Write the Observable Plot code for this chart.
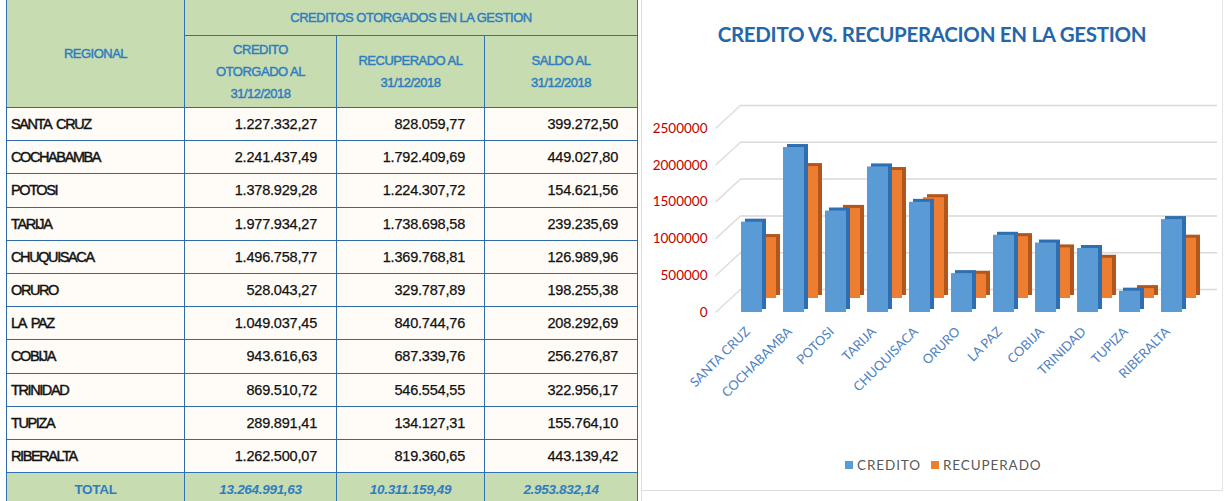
<!DOCTYPE html>
<html>
<head>
<meta charset="utf-8">
<script src="https://cdn.jsdelivr.net/npm/d3@7"></script>
<script src="https://cdn.jsdelivr.net/npm/@observablehq/plot@0.6"></script>
<style>
html, body { margin: 0; padding: 0; background: #fff; }
body { width: 1227px; height: 501px; position: relative; overflow: hidden; font-family: "Liberation Sans", Arial, sans-serif; }
.cell { position: absolute; box-sizing: border-box; display: flex; align-items: center; border: 1px solid #2f72b3; }
.hdr { background: #c8dcb1; color: #2f7dc0; justify-content: center; text-align: center; font-size: 13px; line-height: 22px; letter-spacing: -0.5px; -webkit-text-stroke: 0.45px #2f7dc0; }
.data { background: #fffcf7; color: #111; font-size: 14.5px; border-color: #2f6aa6; }
.name { justify-content: flex-start; padding-left: 4px; letter-spacing: -1.4px; word-spacing: 3px; -webkit-text-stroke: 0.45px #111; }
.num { justify-content: flex-end; padding-right: 19px; letter-spacing: -0.2px; -webkit-text-stroke: 0.25px #111; }
.tot { background: #c8dcb1; color: #2f7dc0; font-size: 13.5px; font-style: italic; font-weight: bold; justify-content: center; letter-spacing: -0.3px; }
#chartbox { position: absolute; left: 640px; top: 0; width: 587px; height: 501px; }
#chartbox svg { position: absolute; left: 0; top: 0; }
#title { position: absolute; left: 640px; top: 22px; width: 584px; text-align: center; font-family: Lato, sans-serif; font-weight: 700; font-size: 20.5px; color: #2566ab; letter-spacing: -0.3px; }
#legend { position: absolute; top: 457px; left: 845px; font-family: Lato, sans-serif; font-size: 13.5px; color: #595959; display: flex; align-items: center; letter-spacing: 0.9px; }
#legend .sw { display: inline-block; width: 8px; height: 8px; margin-right: 4px; }
#legend .item { display: flex; align-items: center; margin-right: 10px; }
#edgeL { position: absolute; left: 641px; top: 0; width: 1px; height: 501px; background: #cfe6f3; }
#edgeB { position: absolute; left: 642px; top: 490px; width: 580px; height: 1px; background: #dcdcdc; }
#edgeR { position: absolute; left: 1222px; top: 0; width: 1px; height: 491px; background: #e4e4e4; }
</style>
</head>
<body>
<div id="table"></div>
<div id="edgeL"></div>
<div id="edgeB"></div>
<div id="edgeR"></div>
<div id="chartbox"></div>
<div id="title"></div>
<div id="legend"></div>
<script>
// ---------- data ----------
const regions = ["SANTA CRUZ","COCHABAMBA","POTOSI","TARIJA","CHUQUISACA","ORURO","LA PAZ","COBIJA","TRINIDAD","TUPIZA","RIBERALTA"];
const credito = [1227332.27, 2241437.49, 1378929.28, 1977934.27, 1496758.77, 528043.27, 1049037.45, 943616.63, 869510.72, 289891.41, 1262500.07];
const recuperado = [828059.77, 1792409.69, 1224307.72, 1738698.58, 1369768.81, 329787.89, 840744.76, 687339.76, 546554.55, 134127.31, 819360.65];
const saldo = [399272.50, 449027.80, 154621.56, 239235.69, 126989.96, 198255.38, 208292.69, 256276.87, 322956.17, 155764.10, 443139.42];
const totals = [13264991.63, 10311159.49, 2953832.14];
const groupHeader = "CREDITOS OTORGADOS EN LA GESTION";
const colHeaders = [["CREDITO","OTORGADO AL","31/12/2018"],["RECUPERADO AL","31/12/2018"],["SALDO AL","31/12/2018"]];
const firstHeader = "REGIONAL";
const totalLabel = "TOTAL";
const yTicks = [0, 500000, 1000000, 1500000, 2000000, 2500000];
const chartTitle = "CREDITO VS. RECUPERACION EN LA GESTION";
const seriesNames = ["CREDITO", "RECUPERADO"];
const seriesColors = ["#5b9bd5", "#ed7d31"];
const seriesSide = ["#2f6eb0", "#b2561b"];

// ---------- table ----------
function fmt(v) {
  const [i, d] = v.toFixed(2).split(".");
  return i.replace(/\B(?=(\d{3})+(?!\d))/g, ".") + "," + d;
}
const colX = [6, 184, 336, 484, 637];
const headTop = 5, headMid = 35, headBot = 107, rowH = 33.2;
const tbl = document.getElementById("table");
function cell(x0, y0, x1, y1, cls, html) {
  const d = document.createElement("div");
  d.className = "cell " + cls;
  d.style.left = x0 + "px"; d.style.top = y0 + "px";
  d.style.width = (x1 - x0 + 1) + "px"; d.style.height = (y1 - y0 + 1) + "px";
  d.innerHTML = html;
  tbl.appendChild(d);
}
cell(colX[0], headTop - 6, colX[1], headBot, "hdr", firstHeader);
cell(colX[1], headTop - 6, colX[4], headMid, "hdr", groupHeader);
colHeaders.forEach((lines, j) => cell(colX[j + 1], headMid, colX[j + 2], headBot, "hdr", "<div>" + lines.join("<br>") + "</div>"));
regions.forEach((r, k) => {
  const y0 = headBot + k * rowH, y1 = y0 + rowH;
  cell(colX[0], y0, colX[1], y1, "data name", r);
  [credito[k], recuperado[k], saldo[k]].forEach((v, j) => cell(colX[j + 1], y0, colX[j + 2], y1, "data num", fmt(v)));
});
{
  const y0 = headBot + regions.length * rowH;
  cell(colX[0], y0, colX[1], y0 + 34, "tot", "<span style='font-style:normal'>" + totalLabel + "</span>");
  totals.forEach((v, j) => cell(colX[j + 1], y0, colX[j + 2], y0 + 34, "tot", fmt(v)));
}

// ---------- chart ----------
const idx = regions.map((d, i) => i);
const barW = 0.5;              // bar width in category units
const wallDX = 25, wallDY = -23; // back wall offset (px)
const wallDepthX = 25 / 42, wallDepthY = 312500; // same offset in data units for the side links
const chart = Plot.plot({
  width: 587, height: 501,
  marginLeft: 70, marginRight: 0, marginTop: 128, marginBottom: 189,
  x: {type: "linear", domain: [-0.738, 11.571], axis: null},
  y: {domain: [0, 2500000], axis: null},
  style: {background: "transparent", fontFamily: "Lato, sans-serif"},
  marks: [
    Plot.ruleY(yTicks, {x1: -0.62, x2: 10.74, dx: wallDX, dy: wallDY, stroke: "#d9d9d9", strokeWidth: 1.5}),
    Plot.link(yTicks, {x1: -0.62, y1: d => d, x2: -0.62 + wallDepthX, y2: d => d + wallDepthY, stroke: "#dedede", strokeWidth: 1.5}),
    // back series: RECUPERADO
    Plot.rect(idx, {x1: i => i, x2: i => i + barW, y1: 0, y2: i => recuperado[i], fill: seriesSide[1], dx: 18, dy: -17}),
    Plot.rect(idx, {x1: i => i, x2: i => i + barW, y1: 0, y2: i => recuperado[i], fill: seriesColors[1], dx: 14, dy: -14}),
    // front series: CREDITO
    Plot.rect(idx, {x1: i => i, x2: i => i + barW, y1: 0, y2: i => credito[i], fill: seriesSide[0], dx: 4, dy: -3}),
    Plot.rect(idx, {x1: i => i, x2: i => i + barW, y1: 0, y2: i => credito[i], fill: seriesColors[0]}),
    // y tick labels
    Plot.text(yTicks, {x: -0.738, y: d => d, text: d => String(d), textAnchor: "end", dx: -3, fill: "#c00000", fontSize: 13.5}),
    // category labels
    Plot.text(regions, {x: (d, i) => i + 0.15, y: 0, text: d => d, rotate: -45, textAnchor: "end", dy: 17, fill: "#4f81bd", fontSize: 13})
  ]
});
document.getElementById("chartbox").appendChild(chart);
document.getElementById("title").textContent = chartTitle;
const lg = document.getElementById("legend");
seriesNames.forEach((n, i) => {
  const it = document.createElement("span");
  it.className = "item";
  it.innerHTML = `<span class="sw" style="background:${seriesColors[i]}"></span>${n}`;
  lg.appendChild(it);
});
</script>
</body>
</html>
